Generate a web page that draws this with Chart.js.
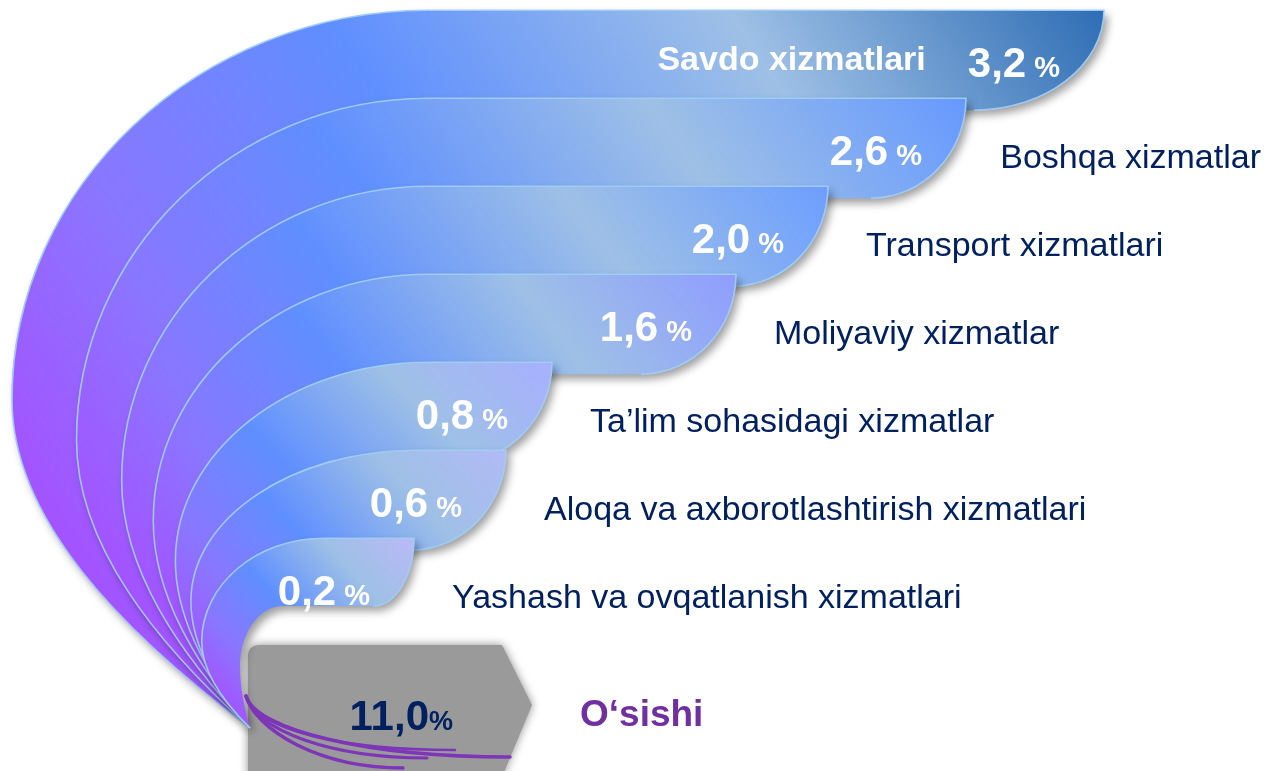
<!DOCTYPE html>
<html>
<head>
<meta charset="utf-8">
<script src="https://cdn.jsdelivr.net/npm/chart.js@4.4.1/dist/chart.umd.min.js"></script>
<style>
  html, body { margin: 0; padding: 0; background: #fff; }
  #wrap { width: 1265px; height: 771px; position: relative; }
</style>
</head>
<body>
<div id="wrap"><canvas id="chart"></canvas></div>
<script>
// contributions to services growth, percentage points (top band first)
const categories = [
  'Savdo xizmatlari',
  'Boshqa xizmatlar',
  'Transport xizmatlari',
  'Moliyaviy xizmatlar',
  'Ta’lim sohasidagi xizmatlar',
  'Aloqa va axborotlashtirish xizmatlari',
  'Yashash va ovqatlanish xizmatlari'
];
const values = [3.2, 2.6, 2.0, 1.6, 0.8, 0.6, 0.2];
const totalLabel = 'O‘sishi';
const totalValue = 11.0;

const FONT = '"Liberation Sans", Arial, sans-serif';
const NAVY = '#002060';
const PURPLE = '#7030a0';
const endColors = ['#2e6db4', '#6699ff', '#6c9eff', '#8f9dff', '#a8b0ff', '#b2baf6', '#bbb9f7'];

const fmt = v => v.toFixed(1).replace('.', ',');

// upper part of a band's left sweep, from the convergence point up to (xs, top)
function arcUp(ctx, a, cx, cy) {
  ctx.bezierCurveTo(a.xl + 0.45 * (cx - a.xl), cy - 0.3 * (cy - a.yl), a.xl, a.yl + 0.36 * (cy - a.yl), a.xl, a.yl);
  ctx.bezierCurveTo(a.xl, a.yl - 0.55 * (a.yl - a.top), a.xs - 0.55 * (a.xs - a.xl), a.top, a.xs, a.top);
}
// same sweep traced the other way
function arcDown(ctx, a, cx, cy) {
  ctx.bezierCurveTo(a.xs - 0.55 * (a.xs - a.xl), a.top, a.xl, a.yl - 0.55 * (a.yl - a.top), a.xl, a.yl);
  ctx.bezierCurveTo(a.xl, a.yl + 0.36 * (cy - a.yl), a.xl + 0.45 * (cx - a.xl), cy - 0.3 * (cy - a.yl), cx, cy);
}

function drawNumber(ctx, num, pct, xRight, yMid, big, small, color) {
  ctx.font = 'bold ' + big + 'px ' + FONT;
  const wNum = ctx.measureText(num).width;
  ctx.font = 'bold ' + small + 'px ' + FONT;
  const wPct = ctx.measureText(pct).width;
  const x = xRight - wNum - wPct;
  const base = yMid + big * 0.36;
  ctx.fillStyle = color;
  ctx.textBaseline = 'alphabetic';
  ctx.textAlign = 'left';
  ctx.font = 'bold ' + big + 'px ' + FONT;
  ctx.fillText(num, x, base);
  ctx.font = 'bold ' + small + 'px ' + FONT;
  ctx.fillText(pct, x + wNum, base);
  return x;
}

const funnel = {
  id: 'funnel',
  afterDatasetsDraw(chart) {
    const ctx = chart.ctx;
    const area = chart.chartArea;
    const xs = chart.scales.x, ys = chart.scales.y;
    const bars = chart.getDatasetMeta(0).data.slice(0, values.length);
    const x0 = xs.getPixelForValue(0);
    const yT = ys.getPixelForValue(categories.length);
    const cx = x0 - 118, cy = yT + 56;

    // grey total box
    ctx.save();
    ctx.shadowColor = 'rgba(0,0,0,0.45)';
    ctx.shadowBlur = 10;
    ctx.fillStyle = '#9a9a9a';
    ctx.beginPath();
    ctx.moveTo(cx - 2, yT - 15);
    ctx.quadraticCurveTo(cx - 2, yT - 27, cx + 10, yT - 27);
    ctx.lineTo(cx + 252, yT - 27);
    ctx.lineTo(cx + 282, yT + 33);
    ctx.lineTo(cx + 252, yT + 105);
    ctx.lineTo(cx - 2, yT + 105);
    ctx.closePath();
    ctx.fill();
    ctx.restore();

    const bands = bars.map((bar, i) => {
      const top = bar.y - bar.height * 0.52;
      return {
        top,
        y: bar.y,
        xe: bar.x,
        xs: Math.min(x0 + 60, bar.x - 90),
        xl: area.left + 12 + 215 * (1 - Math.pow(0.7, i)),
        yl: top + 0.543 * (cy - top)
      };
    });
    bands.forEach((b, i) => {
      b.bot = i < bands.length - 1 ? bands[i + 1].top + 12 : b.top + bars[i].height * 0.77;
      b.rw = (b.bot - b.top) * (i === 0 ? 1.3 : i < bands.length - 1 ? 0.95 : 0.6);
    });
    const last = bands[bands.length - 1];
    const inner = { top: last.bot, xs: x0 - 85, xl: cx - 10, yl: last.bot + 60 };

    bands.forEach((b, i) => {
      const nx = i < bands.length - 1 ? bands[i + 1] : inner;
      const h = b.bot - b.top;
      const g = ctx.createLinearGradient(b.xl, cy, b.xe, b.top);
      g.addColorStop(0, '#b43cff');
      g.addColorStop(0.28, '#8a76ff');
      g.addColorStop(0.5, '#5f8fff');
      g.addColorStop(0.76, '#9ec0e6');
      g.addColorStop(1, endColors[i]);

      ctx.save();
      ctx.beginPath();
      ctx.moveTo(cx, cy);
      arcUp(ctx, b, cx, cy);
      ctx.lineTo(b.xe, b.top);
      ctx.bezierCurveTo(b.xe, b.top + 0.55 * h, b.xe - 0.45 * b.rw, b.bot, b.xe - b.rw, b.bot);
      ctx.lineTo(nx.xs, b.bot);
      ctx.lineTo(nx.xs, nx.top);
      arcDown(ctx, nx, cx, cy);
      ctx.closePath();
      ctx.shadowColor = 'rgba(0,0,0,0.38)';
      ctx.shadowBlur = 9;
      ctx.shadowOffsetX = 4;
      ctx.shadowOffsetY = 5;
      ctx.fillStyle = g;
      ctx.fill();
      ctx.restore();

      // light rim on the outer edge
      ctx.save();
      ctx.beginPath();
      ctx.moveTo(cx, cy);
      arcUp(ctx, b, cx, cy);
      ctx.lineTo(b.xe, b.top);
      ctx.bezierCurveTo(b.xe, b.top + 0.55 * h, b.xe - 0.45 * b.rw, b.bot, b.xe - b.rw, b.bot);
      ctx.strokeStyle = 'rgba(160,205,245,0.95)';
      ctx.lineWidth = 1.6;
      ctx.stroke();
      ctx.restore();
    });

    // purple streaks under the funnel tip
    ctx.save();
    ctx.strokeStyle = '#7d36b8';
    ctx.lineCap = 'round';
    [[260, 29, 3.5], [177, 30, 3], [153, 40, 3.5], [205, 22, 2.5]].forEach(([dx, dy, w]) => {
      ctx.beginPath();
      ctx.moveTo(cx - 4, cy - 32);
      ctx.bezierCurveTo(cx + 6, cy + 2, cx + dx * 0.45, cy + dy, cx + dx, cy + dy);
      ctx.lineWidth = w;
      ctx.stroke();
    });
    ctx.restore();

    // texts
    ctx.save();
    bands.forEach((b, i) => {
      const left = drawNumber(ctx, fmt(values[i]), ' %', b.xe - 44, b.y + 6, 42, 29, '#ffffff');
      if (i === 0) {
        ctx.font = 'bold 34px ' + FONT;
        ctx.textAlign = 'right';
        ctx.textBaseline = 'middle';
        ctx.fillStyle = '#ffffff';
        ctx.fillText(categories[i], left - 42, b.y + 5);
      } else {
        ctx.font = '34px ' + FONT;
        ctx.textAlign = 'left';
        ctx.textBaseline = 'middle';
        ctx.fillStyle = NAVY;
        const w = ctx.measureText(categories[i]).width;
        ctx.fillText(categories[i], Math.min(b.xe + 38, area.right - w - 4), b.y + 15);
      }
    });
    drawNumber(ctx, fmt(totalValue), '%', cx + 203, yT + 43, 42, 27, NAVY);
    ctx.font = 'bold 37px ' + FONT;
    ctx.textAlign = 'left';
    ctx.textBaseline = 'middle';
    ctx.fillStyle = PURPLE;
    ctx.fillText(totalLabel, cx + 330, yT + 44);
    ctx.restore();
  }
};

new Chart(document.getElementById('chart'), {
  type: 'bar',
  data: {
    labels: [...categories, totalLabel],
    datasets: [{
      data: [...values, null],
      backgroundColor: 'rgba(0,0,0,0)',
      borderWidth: 0,
      barPercentage: 1,
      categoryPercentage: 1
    }]
  },
  options: {
    indexAxis: 'y',
    responsive: true,
    maintainAspectRatio: false,
    animation: false,
    layout: { padding: { top: 12, bottom: 55, left: 0, right: 0 } },
    scales: {
      x: { display: false, min: -1.6, max: 3.9 },
      y: { display: false }
    },
    plugins: {
      legend: { display: false },
      tooltip: { enabled: false }
    }
  },
  plugins: [funnel]
});
</script>
</body>
</html>
